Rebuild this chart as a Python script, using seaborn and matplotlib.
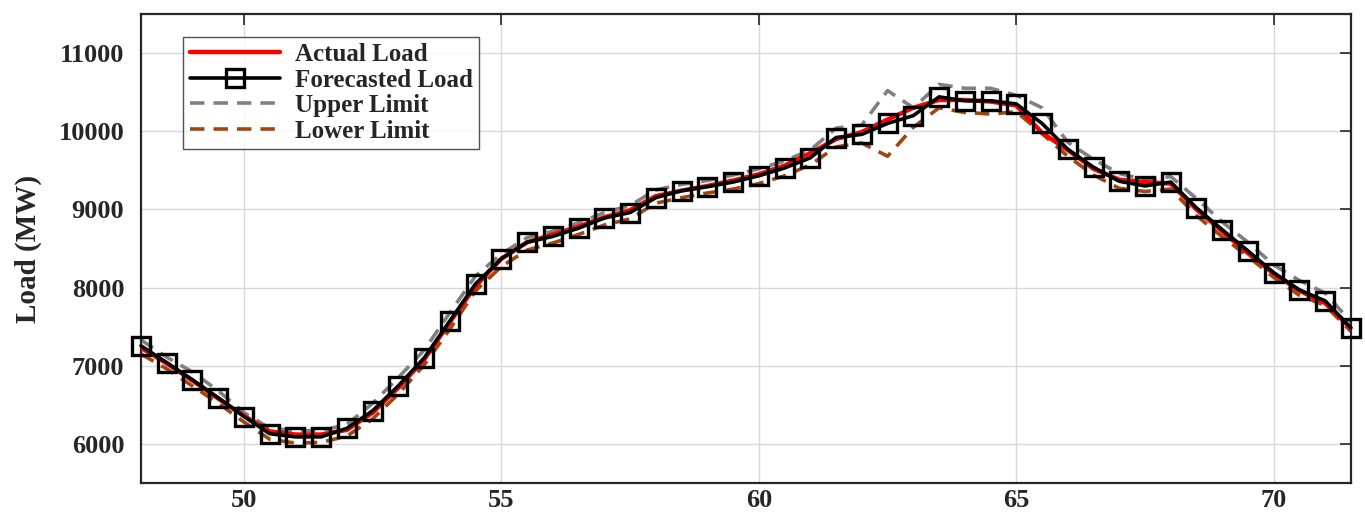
import numpy as np
import pandas as pd
import matplotlib
matplotlib.use("Agg")
import matplotlib.pyplot as plt
import seaborn as sns

hours = np.arange(48, 72, 0.5)

actual = [7230, 7030, 6810, 6580, 6360, 6160, 6120, 6120, 6180, 6400, 6720, 7080,
          7560, 8020, 8370, 8580, 8680, 8780, 8900, 8990, 9170, 9240, 9300, 9370,
          9450, 9560, 9720, 9900, 9990, 10150, 10300, 10400, 10400, 10380, 10330, 9980,
          9760, 9520, 9380, 9350, 9330, 9000, 8720, 8440, 8180, 7960, 7800, 7480]

forecast = [7255, 7040, 6820, 6590, 6350, 6130, 6090, 6090, 6200, 6425, 6745, 7100,
            7575, 8050, 8370, 8580, 8655, 8760, 8890, 8960, 9150, 9240, 9290, 9350,
            9430, 9530, 9660, 9920, 9960, 10100, 10200, 10440, 10390, 10390, 10350, 10100,
            9770, 9540, 9360, 9300, 9350, 9020, 8740, 8470, 8190, 7970, 7830, 7485]

upper = [7330, 7110, 6920, 6680, 6400, 6200, 6170, 6170, 6250, 6520, 6850, 7200,
         7680, 8150, 8430, 8640, 8720, 8830, 8960, 9050, 9250, 9320, 9370, 9440,
         9520, 9620, 9760, 10040, 10080, 10520, 10300, 10600, 10550, 10550, 10460, 10300,
         9860, 9640, 9460, 9380, 9420, 9140, 8840, 8580, 8290, 8090, 7930, 7560]

lower = [7150, 6960, 6740, 6520, 6280, 6060, 6010, 6020, 6100, 6320, 6640, 7010,
         7470, 7960, 8270, 8480, 8570, 8680, 8800, 8880, 9080, 9150, 9210, 9260,
         9330, 9430, 9570, 9800, 9850, 9680, 10050, 10300, 10240, 10220, 10250, 9970,
         9680, 9440, 9270, 9230, 9260, 8920, 8650, 8400, 8130, 7900, 7770, 7440]

xticks = [50, 55, 60, 65, 70]
yticks = [6000, 7000, 8000, 9000, 10000, 11000]

df = pd.DataFrame({"hour": hours, "actual": actual, "forecast": forecast,
                   "upper": upper, "lower": lower})

sns.set_style("white")
plt.rcParams['font.family'] = ['Liberation Serif', 'DejaVu Serif']
plt.rcParams['font.weight'] = 'bold'

fig = plt.figure(figsize=(13.65, 5.13), dpi=100)
ax = fig.add_axes([0.1033, 0.0585, 0.8864, 0.9142])

sns.lineplot(data=df, x="hour", y="actual", ax=ax, color="#ff0000", lw=3.2,
             label="Actual Load", zorder=3)
sns.lineplot(data=df, x="hour", y="forecast", ax=ax, color="black", lw=2.6,
             marker="s", markersize=13, markerfacecolor="none",
             markeredgecolor="black", markeredgewidth=2.4,
             label="Forecasted Load", zorder=4, clip_on=False)
sns.lineplot(data=df, x="hour", y="upper", ax=ax, color="#808080", lw=2.6,
             linestyle=(0, (4, 2.5)), label="Upper Limit", zorder=2)
sns.lineplot(data=df, x="hour", y="lower", ax=ax, color="#A0460F", lw=2.6,
             linestyle=(0, (4, 2.5)), label="Lower Limit", zorder=2)

ax.set_xlim(48, 71.5)
ax.set_ylim(5500, 11500)
ax.set_xticks(xticks)
ax.set_yticks(yticks)
ax.set_xlabel("")
ax.set_ylabel("Load (MW)", fontsize=21, fontweight="bold")
ax.yaxis.set_label_coords(-0.082, 0.5)
ax.grid(True, color="#d9d9d9", lw=1.0)
ax.tick_params(direction="in", length=8, width=1.2, top=True, right=True,
               labelsize=19)
ax.tick_params(axis="y", pad=12)
ax.tick_params(axis="x", pad=4)
for lab in ax.get_xticklabels() + ax.get_yticklabels():
    lab.set_fontweight("bold")
    lab.set_color("#262626")
for s in ax.spines.values():
    s.set_linewidth(1.6)
    s.set_color("#262626")

leg = ax.legend(loc="upper left", bbox_to_anchor=(0.035, 0.951), borderaxespad=0,
                frameon=True, fancybox=False, edgecolor="#262626",
                handlelength=3.6, borderpad=0.25, labelspacing=0.1,
                handletextpad=0.6, prop={"weight": "bold", "size": 18})
leg.get_frame().set_linewidth(1.0)

fig.savefig("out.png", dpi=100)
